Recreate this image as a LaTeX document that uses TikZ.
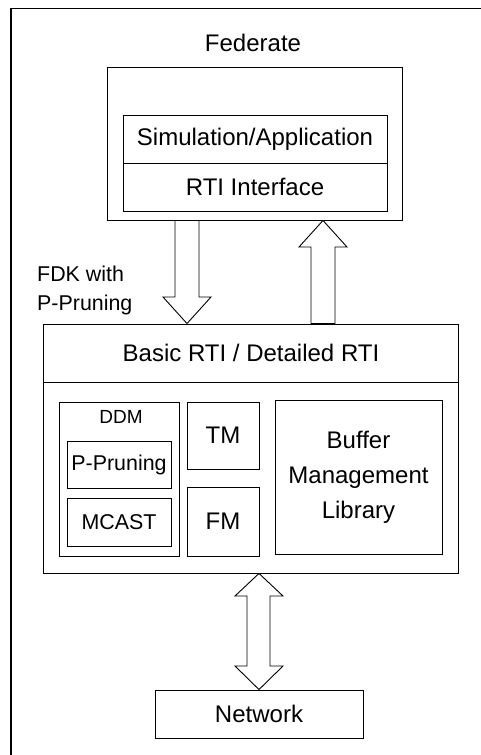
\documentclass[tikz,border=0pt]{standalone}
\usepackage{fontspec}
\setmainfont{Liberation Sans}
\usetikzlibrary{calc}
\begin{document}
\begin{tikzpicture}[x=1pt,y=-1pt,
  box/.style={draw,line width=0.9pt,rectangle,inner sep=0pt,align=center},
  plain/.style={inner sep=0pt,align=center},
  big/.style={font=\fontsize{24}{35}\selectfont},
  mid/.style={font=\fontsize{21.4}{29}\selectfont},
  small/.style={font=\fontsize{19}{22}\selectfont},
  blockarrow/.style={draw,line width=0.9pt,fill=white,line join=miter}]
\useasboundingbox (0,0) rectangle (481,755);
% frame
\draw[line width=1.4pt] (11,755) -- (11,8.5) -- (481,8.5);

% federate
\node[plain,big] (fedlabel) at (253,43) {Federate};
\node[box,minimum width=295pt,minimum height=153pt] (fed) at (254.5,143.5) {};
\node[box,big,minimum width=264pt,minimum height=48pt] (sim) at (255,139) {Simulation/Application};
\node[box,big,minimum width=264pt,minimum height=48pt] (rtiif) at (255,187) {RTI Interface};

% RTI
\node[box,minimum width=415pt,minimum height=249pt] (rti) at (250.5,448.5) {};
\draw[line width=0.9pt] (rti.west |- 0,382) -- (rti.east |- 0,382);
\node[plain,big] (rtilabel) at (251,353) {Basic RTI / Detailed RTI};

\node[box,minimum width=120pt,minimum height=154pt] (ddm) at (119,479) {};
\node[plain,small] (ddmlabel) at (121,417) {DDM};
\node[box,mid,minimum width=104pt,minimum height=47pt] (pprune) at (119,464.5) {P-Pruning};
\node[box,mid,minimum width=104pt,minimum height=48pt] (mcast) at (119,522) {MCAST};
\node[box,big,minimum width=72pt,minimum height=67pt] (tm) at (223,435.5) {TM};
\node[box,big,minimum width=72pt,minimum height=69pt] (fm) at (223,521.5) {FM};
\node[box,big,minimum width=167pt,minimum height=154pt] (buf) at (358.5,477) {Buffer\\Management\\Library};

% network
\node[box,big,minimum width=208pt,minimum height=48pt] (net) at (259,714) {Network};

\node[plain,mid,align=left,anchor=west] (fdk) at (37,290.5) {FDK with\\P-Pruning};

% block arrows between the boxes
\draw[blockarrow] let \p1=(fed.south), \p2=(rti.north) in
  (175,\y1) -- (199,\y1) -- (199,297) -- (211,297) -- (187,\y2)
  -- (163,297) -- (175,297) -- cycle;
\draw[blockarrow] let \p1=(rti.north), \p2=(fed.south) in
  (311,\y1) -- (335,\y1) -- (335,247) -- (347,247) -- (323,\y2)
  -- (299,247) -- (311,247) -- cycle;
\draw[blockarrow] let \p1=(rti.south), \p2=(net.north) in
  (259,\y1) -- (283,596) -- (270,596) -- (270,666) -- (283,666)
  -- (259,\y2) -- (235,666) -- (247,666) -- (247,596) -- (235,596) -- cycle;
\end{tikzpicture}
\end{document}
